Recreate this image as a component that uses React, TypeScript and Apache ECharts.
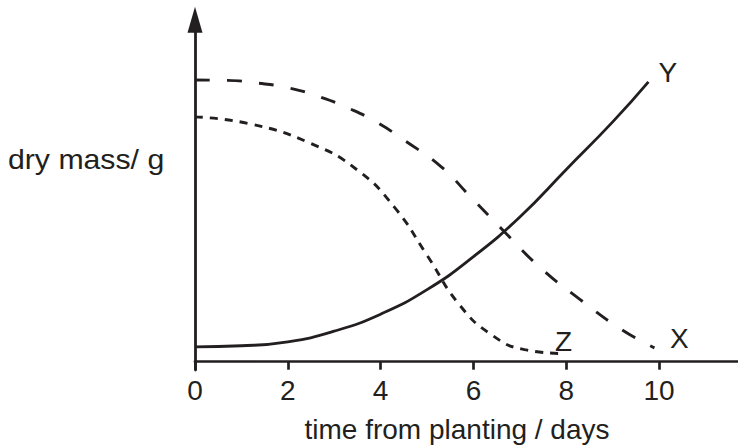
import React, { useEffect, useRef } from "react";
import * as echarts from "echarts";

// Axis ticks (days)
const xTicks = [0, 2, 4, 6, 8, 10];

// Curve X (long dashes): [day, dry mass]
const curveX: [number, number][] = [
  [0, 79.4], [0.7, 79.3], [1.3, 78.6], [2.0, 77.2], [2.7, 74.6], [3.3, 71.5],
  [3.9, 67.6], [4.5, 62.5], [5.3, 55.0], [5.9, 47.0], [6.64, 37.0], [7.4, 27.0],
  [8.3, 17.5], [9.2, 9.0], [9.9, 3.9],
];

// Curve Y (solid)
const curveY: [number, number][] = [
  [0, 4.2], [1, 4.5], [2, 5.6], [3, 8.6], [4, 13.4], [5, 20.3], [6, 29.6],
  [7, 40.8], [8, 54.2], [9, 67.6], [9.77, 78.9],
];

// Curve Z (short dashes)
const curveZ: [number, number][] = [
  [0, 69.0], [1.2, 67.0], [2.5, 61.5], [3.5, 54.0], [4.3, 43.5], [5, 30.0],
  [5.7, 16.0], [6.4, 7.5], [7.1, 3.4], [7.93, 2.3],
];

const xName = "time from planting / days";
const yName = "dry mass/ g";

const INK = "#231f20";
const FONT = "'Liberation Sans', Arial, Helvetica, sans-serif";
const FS = 28;

export default function App() {
  const ref = useRef<HTMLDivElement>(null);

  useEffect(() => {
    if (!ref.current) return;
    const chart = echarts.init(ref.current, undefined, { renderer: "svg" });

    const labelStyle = { color: INK, fontSize: FS, fontFamily: FONT };

    chart.setOption({
      animation: false,
      backgroundColor: "#ffffff",
      grid: { left: 195, right: 0, top: 19.7, bottom: 78, containLabel: false },
      xAxis: {
        type: "value",
        min: 0,
        max: 11.7,
        interval: 2,
        axisLine: { show: true, onZero: true, lineStyle: { color: INK, width: 2.7 } },
        axisTick: { show: true, length: 8, customValues: xTicks, lineStyle: { color: INK, width: 2.7 } },
        axisLabel: { show: true, customValues: xTicks, margin: 6, ...labelStyle },
        splitLine: { show: false },
      },
      yAxis: {
        type: "value",
        min: -2.34,
        max: 96.4,
        axisLine: {
          show: true,
          onZero: true,
          symbol: ["none", "triangle"],
          symbolSize: [15, 26],
          lineStyle: { color: INK, width: 2.8 },
        },
        axisTick: { show: false },
        axisLabel: { show: false },
        splitLine: { show: false },
      },
      graphic: [
        {
          type: "text",
          x: 8,
          y: 159,
          scaleX: 1.08,
          style: { text: yName, fill: INK, font: `${FS}px ${FONT}`, textVerticalAlign: "middle", textAlign: "left" },
        },
        {
          type: "text",
          x: 457,
          y: 429,
          style: { text: xName, fill: INK, font: `${FS}px ${FONT}`, textVerticalAlign: "middle", textAlign: "center" },
        },
      ],
      series: [
        {
          name: "X",
          type: "line",
          data: curveX,
          smooth: 0.5,
          showSymbol: false,
          symbol: "none",
          lineStyle: { color: INK, width: 2.9, type: [15, 17] },
          endLabel: { show: true, formatter: "X", distance: 0, offset: [15.5, -9], ...labelStyle },
        },
        {
          name: "Y",
          type: "line",
          data: curveY,
          smooth: 0.5,
          showSymbol: false,
          symbol: "none",
          lineStyle: { color: INK, width: 2.8, type: "solid" },
          endLabel: { show: true, formatter: "Y", distance: 0, offset: [10, -9.5], ...labelStyle },
        },
        {
          name: "Z",
          type: "line",
          data: curveZ,
          smooth: 0.5,
          showSymbol: false,
          symbol: "none",
          lineStyle: { color: INK, width: 2.9, type: [8, 7] },
          endLabel: { show: true, formatter: "Z", distance: 0, offset: [-8, -12], ...labelStyle },
        },
      ],
    });

    return () => chart.dispose();
  }, []);

  return (
    <div
      ref={ref}
      style={{ position: "fixed", left: 0, top: 0, width: 738, height: 448, background: "#fff" }}
    />
  );
}
